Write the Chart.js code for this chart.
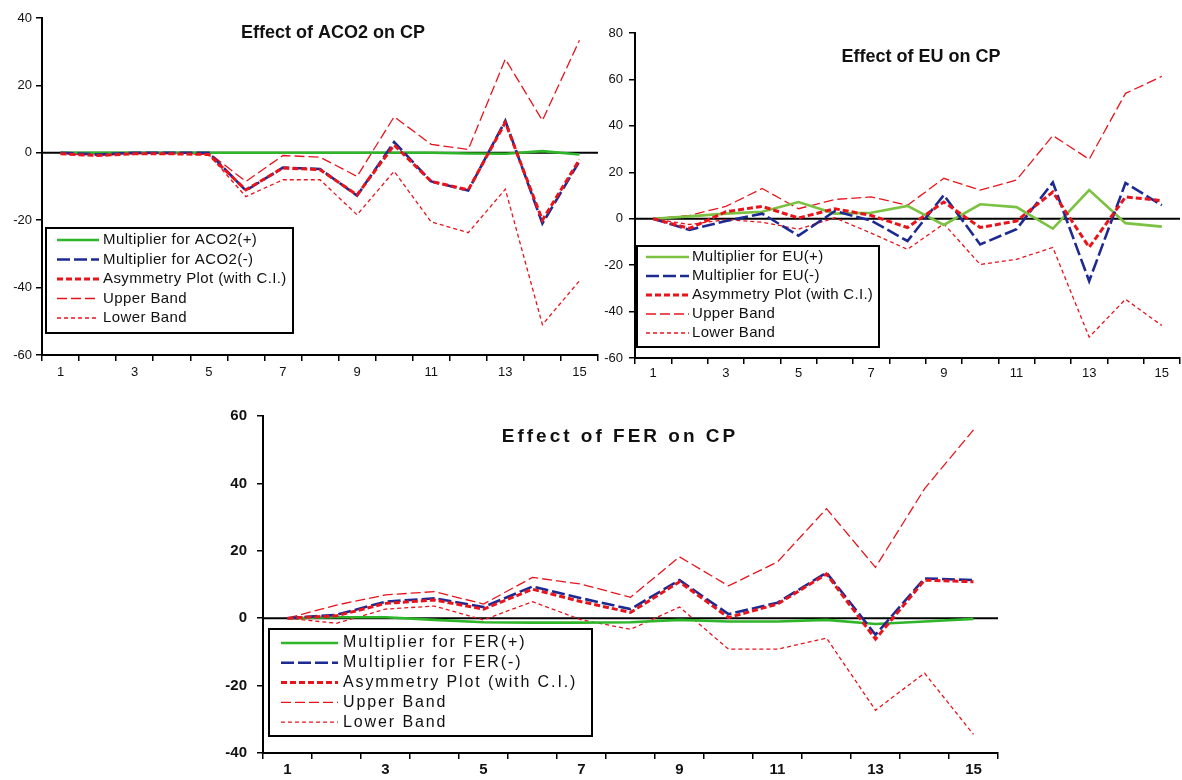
<!DOCTYPE html>
<html>
<head>
<meta charset="utf-8">
<title>Asymmetry plots</title>
<script src="https://cdn.jsdelivr.net/npm/chart.js@4.4.1/dist/chart.umd.min.js"></script>
<style>
  body { margin:0; background:#fff; }
  #wrap { position:relative; width:1182px; height:780px; overflow:hidden; background:#fff; }
  canvas { position:absolute; }
</style>
</head>
<body>
<div id="wrap">
  <canvas id="aco2Chart" width="600" height="390" style="left:0;top:0"></canvas>
  <canvas id="euChart" width="592" height="390" style="left:590px;top:0"></canvas>
  <canvas id="ferChart" width="800" height="390" style="left:200px;top:390px"></canvas>
</div>
<script>
// Horizon (periods) shared by all three panels
const periods = ['1','2','3','4','5','6','7','8','9','10','11','12','13','14','15'];
const bandNames = ['Asymmetry Plot (with C.I.)', 'Upper Band', 'Lower Band'];

// Effect of ACO2 on CP
const aco2Pos   = [0, 0, 0, 0, 0, 0, 0, 0, 0, 0, 0, -0.2, -0.3, 0.5, -0.5];
const aco2Neg   = [0, -0.5, 0, 0, 0, -11.2, -4.4, -4.8, -12.7, 3.2, -8.5, -11.2, 9.5, -21, -2.5];
const aco2Asym  = [-0.3, -0.8, -0.3, -0.3, -0.5, -11, -4.5, -5, -12.5, 2.3, -8.5, -11, 9, -20, -2];
const aco2Upper = [0, -0.3, 0, 0, 0, -8.5, -0.8, -1.3, -7, 10.7, 2.5, 1, 27.8, 9.6, 33.4];
const aco2Lower = [-0.3, -0.8, -0.3, -0.3, -0.5, -13, -8, -8, -18.4, -5.5, -20.5, -23.7, -10.8, -51, -38];

// Effect of EU on CP
const euPos   = [0, 1, 2.2, 3, 7.2, 2.2, 2.6, 5.5, -2.7, 6.2, 5, -4.3, 12.3, -1.9, -3.4];
const euNeg   = [0, -4.8, -1, 2.2, -7.3, 3.3, -0.8, -9.6, 10.2, -11.1, -4.5, 15.6, -26.9, 15.4, 5.8];
const euAsym  = [0, -4.2, 3, 5.3, 0.3, 4.3, 1.4, -3.8, 7.2, -3.8, -1, 11.5, -12.3, 9.4, 7.8];
const euUpper = [0, 1.4, 5.3, 13, 4.3, 8.3, 9.4, 5.8, 17.4, 12.3, 16.7, 35.8, 25.6, 54, 61.3];
const euLower = [0, -2.5, -0.4, -1.5, -4.5, 0.4, -6.2, -13.2, -2.2, -19.7, -17.5, -12.4, -51, -34.7, -46];

// Effect of FER on CP
const ferPos   = [0, 0.3, 0.3, -0.5, -1.2, -1.3, -1.3, -1.2, -0.5, -1, -1, -0.5, -1.7, -1, -0.2];
const ferNeg   = [0, 1, 4.9, 5.9, 3.3, 9.4, 5.9, 2.7, 11.3, 1.2, 4.6, 13.5, -4.9, 11.8, 11.3];
const ferAsym  = [0, 0.7, 4.4, 5.4, 2.7, 8.6, 4.9, 1.7, 10.8, 0.2, 4.2, 13.1, -6.2, 11.3, 10.8];
const ferUpper = [0, 3.9, 6.9, 7.9, 4.2, 12.1, 10.1, 6.2, 18.2, 9.6, 16.7, 32.5, 15.1, 38.4, 55.9];
const ferLower = [0, -1.5, 2.7, 3.6, -0.5, 4.9, -0.5, -3.3, 3.3, -9.2, -9.2, -5.9, -27.3, -16.3, -34.5];

const FONT = "'Liberation Sans', Arial, sans-serif";
const RED = '#e8141c', BLUE = '#1c2a92';

// zero line under the series, title and boxed legend on top
const panelPlugin = {
  id: 'panel',
  beforeDatasetsDraw(chart) {
    const {ctx, chartArea} = chart;
    const y = chart.scales.y.getPixelForValue(0);
    ctx.save();
    ctx.strokeStyle = '#000';
    ctx.lineWidth = 2;
    ctx.beginPath();
    ctx.moveTo(chartArea.left, y);
    ctx.lineTo(chartArea.right, y);
    ctx.stroke();
    ctx.restore();
  },
  afterDraw(chart, args, opts) {
    const ctx = chart.ctx;
    ctx.save();
    // title
    ctx.fillStyle = '#111';
    ctx.font = opts.titleFont;
    ctx.textAlign = 'center';
    ctx.textBaseline = 'middle';
    if ('letterSpacing' in ctx) ctx.letterSpacing = opts.titleSpacing || '0px';
    ctx.fillText(opts.title, opts.titleX, opts.titleY);

    // legend box
    const lg = opts.legend;
    ctx.fillStyle = '#fff';
    ctx.fillRect(lg.x, lg.y, lg.w, lg.h);
    ctx.strokeStyle = '#000';
    ctx.lineWidth = 2;
    ctx.strokeRect(lg.x, lg.y, lg.w, lg.h);
    ctx.font = lg.font;
    ctx.textAlign = 'left';
    if ('letterSpacing' in ctx) ctx.letterSpacing = lg.spacing || '0px';
    chart.data.datasets.forEach((ds, i) => {
      const y = lg.row0 + i * lg.rowH;
      ctx.strokeStyle = ds.borderColor;
      ctx.lineWidth = ds.borderWidth;
      ctx.setLineDash(ds.borderDash || []);
      ctx.beginPath();
      ctx.moveTo(lg.lineX0, y);
      ctx.lineTo(lg.lineX1, y);
      ctx.stroke();
      ctx.setLineDash([]);
      ctx.fillStyle = '#111';
      ctx.fillText(ds.label, lg.textX, y);
    });
    ctx.restore();
  }
};

function axisCommon(font, tickLen, pad) {
  return {
    grid: {display:true, drawOnChartArea:false, drawTicks:true, tickLength:tickLen, color:'#000', lineWidth:1.5},
    border: {display:true, color:'#000', width:2},
    ticks: {color:'#111', font:font, padding:pad}
  };
}

function makePanel(id, cfg) {
  const ctx = document.getElementById(id).getContext('2d');
  const x = axisCommon(cfg.tickFont, 6, cfg.xPad);
  x.offset = true;
  x.grid.offset = true;
  x.ticks.autoSkip = false;
  x.ticks.maxRotation = 0;
  x.ticks.callback = (v, i) => (i % 2 === 0 ? periods[i] : '');
  x.afterFit = s => { s.height = cfg.xHeight; };

  const y = axisCommon(cfg.tickFont, 6, cfg.yPad);
  y.min = cfg.yMin;
  y.max = cfg.yMax;
  y.ticks.stepSize = 20;
  y.afterFit = s => { s.width = cfg.yWidth; };

  const line = (label, data, color, width, dash, order) =>
    ({label, data, borderColor:color, borderWidth:width, borderDash:dash, order,
      pointRadius:0, fill:false, tension:0, borderCapStyle:'butt'});

  new Chart(ctx, {
    type:'line',
    data:{labels:periods, datasets:[
      line(cfg.names[0], cfg.pos, cfg.green, 2.6, [], 3),
      line(cfg.names[1], cfg.neg, BLUE, 2.6, [13, 4], 2),
      line(bandNames[0], cfg.asym, RED, 3, [6, 3], 1),
      line(bandNames[1], cfg.upper, RED, 1.3, [10, 4], 4),
      line(bandNames[2], cfg.lower, RED, 1.3, [4, 3], 5)
    ]},
    options:{
      responsive:false, animation:false, devicePixelRatio:1,
      layout:{padding:{top:cfg.padTop, right:2, left:0, bottom:0}},
      scales:{x, y},
      plugins:{legend:{display:false}, tooltip:{enabled:false}, panel:cfg.panel}
    },
    plugins:[panelPlugin]
  });
}

makePanel('aco2Chart', {
  names:['Multiplier for ACO2(+)', 'Multiplier for ACO2(-)'],
  pos:aco2Pos, neg:aco2Neg, asym:aco2Asym, upper:aco2Upper, lower:aco2Lower,
  green:'#2fb52a', yMin:-60, yMax:40,
  yWidth:42, xHeight:35, padTop:18, xPad:4, yPad:4,
  tickFont:{family:FONT, size:13},
  panel:{title:'Effect of ACO2 on CP', titleX:333, titleY:33, titleFont:'bold 18px ' + FONT,
    legend:{x:46, y:228, w:247, h:105, row0:240, rowH:19.5, lineX0:57, lineX1:99, textX:103,
      font:'15px ' + FONT, spacing:'0.4px'}}
});

makePanel('euChart', {
  names:['Multiplier for EU(+)', 'Multiplier for EU(-)'],
  pos:euPos, neg:euNeg, asym:euAsym, upper:euUpper, lower:euLower,
  green:'#7cc242', yMin:-60, yMax:80,
  yWidth:45, xHeight:32, padTop:33, xPad:2, yPad:6,
  tickFont:{family:FONT, size:13},
  panel:{title:'Effect of EU on CP', titleX:331, titleY:57, titleFont:'bold 18px ' + FONT,
    legend:{x:47, y:246, w:242, h:101, row0:257, rowH:19, lineX0:56, lineX1:99, textX:102,
      font:'15px ' + FONT, spacing:'0.3px'}}
});

makePanel('ferChart', {
  names:['Multiplier for FER(+)', 'Multiplier for FER(-)'],
  pos:ferPos, neg:ferNeg, asym:ferAsym, upper:ferUpper, lower:ferLower,
  green:'#2fb52a', yMin:-40, yMax:60,
  yWidth:63, xHeight:27, padTop:26, xPad:2, yPad:10,
  tickFont:{family:FONT, size:15, weight:'bold'},
  panel:{title:'Effect of FER on CP', titleX:420, titleY:47, titleFont:'bold 19px ' + FONT, titleSpacing:'3px',
    legend:{x:69, y:239, w:323, h:107, row0:253, rowH:19.8, lineX0:81, lineX1:138, textX:143,
      font:'16px ' + FONT, spacing:'1.9px'}}
});
</script>
</body>
</html>
